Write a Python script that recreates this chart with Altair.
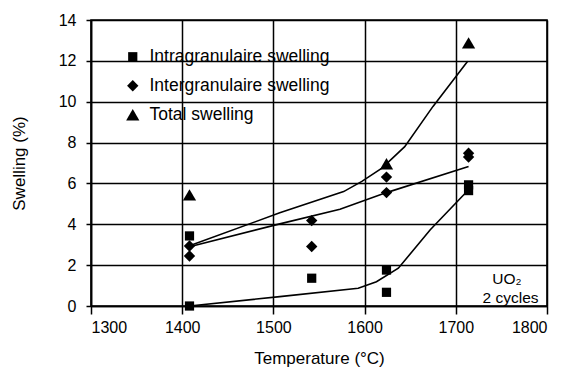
import altair as alt
import pandas as pd

FONT = "Liberation Sans"

# Measured points
intra_t = [1408, 1408, 1542, 1624, 1624, 1714, 1714]
intra_v = [0.0, 3.43, 1.36, 1.76, 0.67, 5.93, 5.65]
inter_t = [1408, 1408, 1542, 1542, 1624, 1624, 1714, 1714]
inter_v = [2.94, 2.45, 4.18, 2.91, 6.31, 5.55, 7.48, 7.29]
total_t = [1408, 1624, 1714]
total_v = [5.44, 6.96, 12.88]

# Fitted curves
intra_curve_t = [1408, 1507, 1593, 1613, 1637, 1672, 1714]
intra_curve_v = [0.0, 0.46, 0.87, 1.19, 1.85, 3.73, 5.69]
inter_curve_t = [1408, 1507, 1573, 1624, 1714]
inter_curve_v = [2.9, 4.02, 4.74, 5.55, 6.83]
total_curve_t = [1408, 1507, 1577, 1597, 1619, 1644, 1675, 1713]
total_curve_v = [2.95, 4.56, 5.6, 6.1, 6.75, 7.8, 9.77, 11.98]

series = ["Intragranulaire swelling", "Intergranulaire swelling", "Total swelling"]
shapes = ["square", "diamond", "triangle-up"]
sizes = [85, 175, 110]

ann_text = ["UO\u2082", "2 cycles"]
ann_t = [1756, 1760]
ann_v = [1.3, 0.4]

pts = pd.DataFrame(
    [{"T": t, "S": v, "series": series[0]} for t, v in zip(intra_t, intra_v)]
    + [{"T": t, "S": v, "series": series[1]} for t, v in zip(inter_t, inter_v)]
    + [{"T": t, "S": v, "series": series[2]} for t, v in zip(total_t, total_v)]
)
curves = pd.DataFrame(
    [{"T": t, "S": v, "c": "intra", "o": i} for i, (t, v) in enumerate(zip(intra_curve_t, intra_curve_v))]
    + [{"T": t, "S": v, "c": "inter", "o": i} for i, (t, v) in enumerate(zip(inter_curve_t, inter_curve_v))]
    + [{"T": t, "S": v, "c": "total", "o": i} for i, (t, v) in enumerate(zip(total_curve_t, total_curve_v))]
)
ann = pd.DataFrame({"T": ann_t, "S": ann_v, "txt": ann_text})

xs = alt.Scale(domain=[1300, 1800], nice=False)
ys = alt.Scale(domain=[0, 14], nice=False)
xax = alt.Axis(values=[1300, 1400, 1500, 1600, 1700, 1800], format="d", title="Temperature (°C)",
               titlePadding=15, labelPadding=5, tickSize=8)
yax = alt.Axis(values=list(range(0, 15, 2)), title="Swelling (%)", titlePadding=30,
               labelPadding=10, tickSize=5)

leg = alt.Legend(title=None, orient="none", legendX=33, legendY=28,
                 labelFontSize=17.5, labelFont=FONT, labelLimit=400,
                 symbolFillColor="black", symbolStrokeColor="black", symbolStrokeWidth=0,
                 rowPadding=10, labelOffset=8, labelColor="black")

lines = alt.Chart(curves).mark_line(color="black", strokeWidth=1.6).encode(
    x=alt.X("T:Q", scale=xs, axis=xax),
    y=alt.Y("S:Q", scale=ys, axis=yax),
    detail="c:N",
    order="o:Q",
)

points = alt.Chart(pts).mark_point(filled=True, opacity=1, color="black").encode(
    x=alt.X("T:Q", scale=xs),
    y=alt.Y("S:Q", scale=ys),
    shape=alt.Shape("series:N", scale=alt.Scale(domain=series, range=shapes), legend=leg),
    size=alt.Size("series:N", scale=alt.Scale(domain=series, range=sizes), legend=leg),
)

texts = alt.Chart(ann).mark_text(font=FONT, fontSize=15.5, color="black", align="center", baseline="middle").encode(
    x=alt.X("T:Q", scale=xs),
    y=alt.Y("S:Q", scale=ys),
    text="txt:N",
)

chart = (lines + points + texts).properties(
    width=456, height=286,
    autosize=alt.AutoSizeParams(type="none"),
    padding={"left": 83, "top": 12, "right": 12, "bottom": 62},
).configure_view(stroke="black", strokeWidth=1.6).configure_axis(
    grid=True, gridColor="black", gridOpacity=1, gridWidth=1.5,
    domainColor="black", domainWidth=1.6, tickColor="black", tickWidth=1.5,
    labelFont=FONT, labelFontSize=16, labelColor="black",
    titleFont=FONT, titleFontSize=17, titleFontWeight="normal", titleColor="black",
)

chart.save("out.html", embed_options={"renderer": "svg", "actions": False})
